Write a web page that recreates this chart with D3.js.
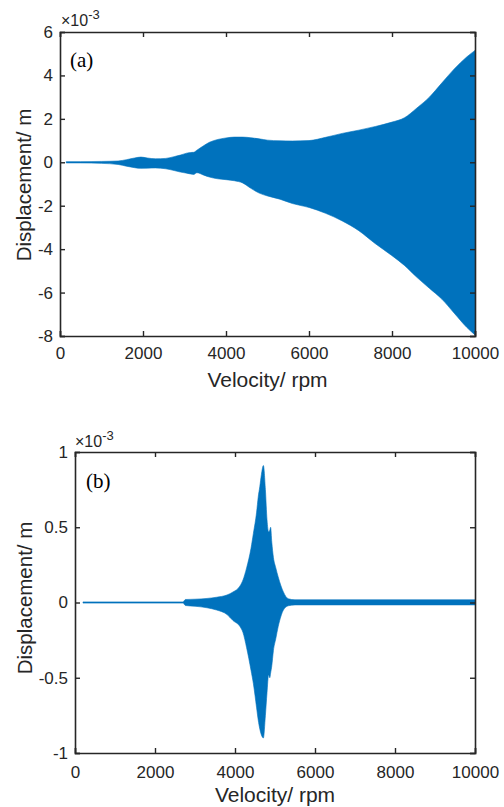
<!DOCTYPE html>
<html>
<head>
<meta charset="utf-8">
<script src="https://cdn.jsdelivr.net/npm/d3@7"></script>
<style>
  html, body { margin: 0; padding: 0; background: #fff; }
  svg { display: block; }
  text { font-family: Arial, "Liberation Sans", sans-serif; fill: #262626; }
  .panel { font-family: "Times New Roman", "Liberation Serif", serif; fill: #000; }
</style>
</head>
<body>
<script>
// ---------- DATA (displacement in ×10^-3 m) ----------
const rpmA = [150, 500, 1000, 1400, 1600, 1800, 1950, 2100, 2300, 2550, 2750, 2900, 3050, 3150, 3220, 3300, 3450, 3600, 3800, 4000, 4200, 4400, 4600, 4800, 5000, 5300, 5600, 6000, 6400, 6800, 7200, 7600, 8000, 8300, 8600, 8900, 9200, 9500, 9800, 10000];
const upperA = [0.03, 0.03, 0.04, 0.06, 0.12, 0.2, 0.24, 0.2, 0.16, 0.18, 0.26, 0.33, 0.42, 0.45, 0.46, 0.56, 0.75, 0.92, 1.05, 1.12, 1.16, 1.16, 1.13, 1.08, 1.02, 0.99, 0.98, 1.0, 1.15, 1.33, 1.48, 1.65, 1.85, 2.05, 2.5, 3.0, 3.65, 4.3, 4.85, 5.15];
const lowerA = [-0.03, -0.03, -0.05, -0.1, -0.18, -0.25, -0.28, -0.27, -0.26, -0.3, -0.38, -0.45, -0.5, -0.54, -0.56, -0.48, -0.58, -0.68, -0.76, -0.8, -0.85, -0.95, -1.2, -1.42, -1.55, -1.7, -1.9, -2.08, -2.35, -2.7, -3.15, -3.75, -4.3, -4.75, -5.3, -5.8, -6.3, -6.95, -7.6, -7.95];

const rpmB = [200, 1000, 2000, 2700, 2760, 3000, 3300, 3540, 3800, 3950, 4125, 4200, 4290, 4400, 4460, 4540, 4580, 4620, 4660, 4710, 4760, 4800, 4840, 4870, 4890, 4920, 4960, 5020, 5080, 5150, 5210, 5330, 5500, 6000, 7000, 8000, 9000, 10000];
const upperB = [0.004, 0.004, 0.004, 0.004, 0.02, 0.022, 0.027, 0.035, 0.05, 0.07, 0.11, 0.15, 0.23, 0.36, 0.46, 0.6, 0.7, 0.77, 0.85, 0.91, 0.75, 0.55, 0.47, 0.48, 0.5, 0.4, 0.3, 0.23, 0.17, 0.11, 0.07, 0.025, 0.018, 0.018, 0.018, 0.018, 0.018, 0.018];
const lowerB = [-0.004, -0.004, -0.004, -0.004, -0.02, -0.025, -0.035, -0.05, -0.08, -0.12, -0.16, -0.2, -0.3, -0.45, -0.54, -0.7, -0.78, -0.84, -0.88, -0.9, -0.75, -0.6, -0.48, -0.5, -0.47, -0.42, -0.32, -0.24, -0.16, -0.09, -0.05, -0.022, -0.016, -0.016, -0.016, -0.016, -0.016, -0.016];

const xTicks = [0, 2000, 4000, 6000, 8000, 10000];
const yTicksA = [-8, -6, -4, -2, 0, 2, 4, 6];
const yTicksB = [-1, -0.5, 0, 0.5, 1];
const xLabel = "Velocity/ rpm";
const yLabel = "Displacement/ m";

// ---------- DRAW ----------
const W = 504, H = 807;
const svg = d3.select("body").append("svg").attr("width", W).attr("height", H);
const blue = "#0072BD";
const axisCol = "#262626";

function panel(cfg) {
  const x = d3.scaleLinear().domain([0, 10000]).range([cfg.left, cfg.right]);
  const y = d3.scaleLinear().domain(cfg.yDomain).range([cfg.bottom, cfg.top]);
  const g = svg.append("g");
  const pts = cfg.rpm.map((r, i) => ({ r, u: cfg.upper[i], l: cfg.lower[i] }));
  const area = d3.area()
    .x(d => x(d.r)).y0(d => y(d.l)).y1(d => y(d.u))
    .curve(d3.curveMonotoneX);
  g.append("path").datum(pts).attr("d", area).attr("fill", blue).attr("stroke", blue).attr("stroke-width", 0.6);

  const tl = 5;
  const axB = g.append("g").attr("transform", `translate(0,${cfg.bottom})`)
    .call(d3.axisBottom(x).tickValues(xTicks).tickSize(-tl).tickPadding(11).tickFormat(d3.format("d")));
  const axT = g.append("g").attr("transform", `translate(0,${cfg.top})`)
    .call(d3.axisTop(x).tickValues(xTicks).tickSize(-tl).tickFormat(""));
  const axL = g.append("g").attr("transform", `translate(${cfg.left},0)`)
    .call(d3.axisLeft(y).tickValues(cfg.yTicks).tickSize(-tl).tickPadding(7).tickFormat(d => String(d)));
  const axR = g.append("g").attr("transform", `translate(${cfg.right},0)`)
    .call(d3.axisRight(y).tickValues(cfg.yTicks).tickSize(-tl).tickFormat(""));
  [axB, axT, axL, axR].forEach(a => {
    a.select(".domain").attr("stroke", axisCol).attr("stroke-width", 1.6);
    a.selectAll(".tick line").attr("stroke", axisCol).attr("stroke-width", 1.4);
    a.selectAll(".tick text").attr("fill", axisCol).style("font-size", "17px")
      .style("font-family", "Arial, 'Liberation Sans', sans-serif");
  });
  axB.selectAll(".tick text").attr("dy", null).attr("y", cfg.xTickBase - cfg.bottom);

  // exponent
  const ex = g.append("text").attr("x", cfg.expX).attr("y", cfg.expY).style("font-size", "16px");
  ex.append("tspan").text("×10");
  ex.append("tspan").attr("dy", -7).style("font-size", "13px").text("-3");

  // panel label
  g.append("text").attr("class", "panel").attr("x", cfg.lblX).attr("y", cfg.lblY)
    .style("font-size", "21px").text(cfg.lbl);

  // axis labels
  g.append("text").attr("x", (cfg.left + cfg.right) / 2).attr("y", cfg.xLabBase)
    .attr("text-anchor", "middle").style("font-size", "21px").text(xLabel);
  g.append("text").attr("transform", `translate(${cfg.yLabX},${cfg.yLabY}) rotate(-90)`)
    .attr("text-anchor", "middle").style("font-size", "20.5px").text(yLabel);
}

panel({
  left: 60, right: 475, top: 32, bottom: 336, yDomain: [-8, 6], yTicks: yTicksA,
  rpm: rpmA, upper: upperA, lower: lowerA,
  xTickBase: 359, xLabBase: 387, yLabX: 31, yLabY: 185,
  expX: 61, expY: 26, lbl: "(a)", lblX: 70, lblY: 67
});
panel({
  left: 75, right: 475, top: 452, bottom: 753, yDomain: [-1, 1], yTicks: yTicksB,
  rpm: rpmB, upper: upperB, lower: lowerB,
  xTickBase: 778, xLabBase: 802, yLabX: 32, yLabY: 598,
  expX: 75, expY: 447, lbl: "(b)", lblX: 86, lblY: 488
});
</script>
</body>
</html>
